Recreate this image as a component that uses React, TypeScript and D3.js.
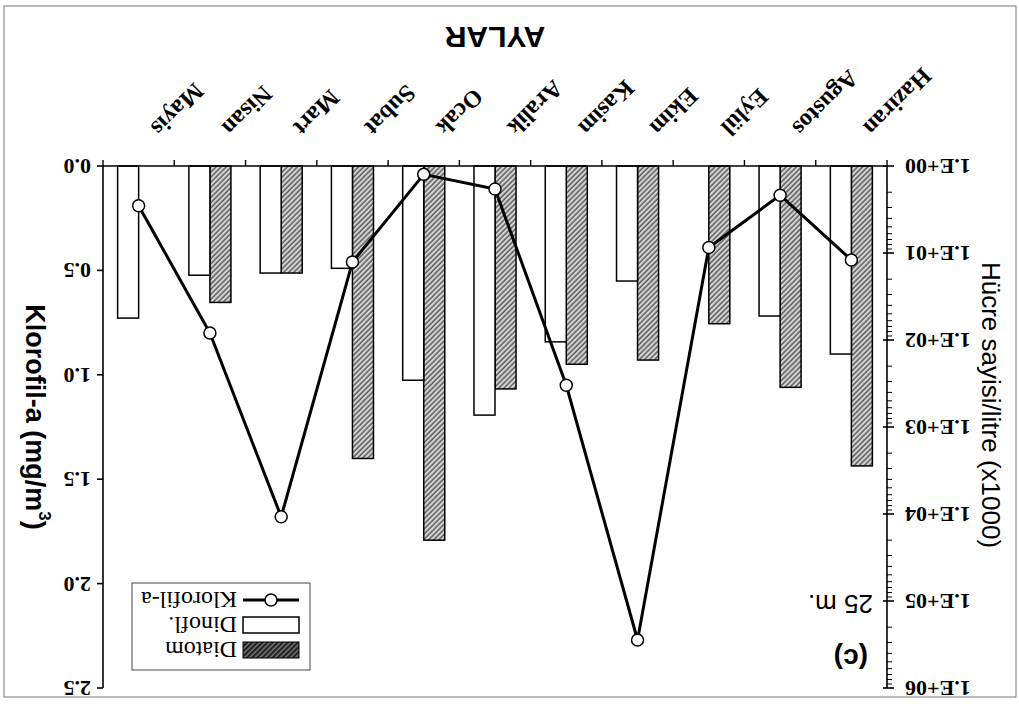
import React from "react";
import * as d3 from "d3";

// Data (in the chart's natural, unrotated order; the whole figure is shown rotated 180°)
const months = ["Haziran", "Agustos", "Eylül", "Ekim", "Kasim", "Aralik", "Ocak", "Subat", "Mart", "Nisan", "Mayis"];
const dinofl: (number | null)[] = [145, 53, null, 21, 105, 730, 290, 15, 17, 18, 56];
const diatom: (number | null)[] = [2800, 350, 65, 170, 190, 365, 20000, 2300, 17, 37, null];
const klorofil = [0.45, 0.14, 0.39, 2.27, 1.05, 0.11, 0.04, 0.46, 1.68, 0.8, 0.19];
const logTicks = [1, 10, 100, 1000, 10000, 100000, 1000000];
const logTickLabels = ["1.E+00", "1.E+01", "1.E+02", "1.E+03", "1.E+04", "1.E+05", "1.E+06"];
const kloroTicks = [0, 0.5, 1, 1.5, 2, 2.5];
const legendItems = ["Diatom", "Dinofl.", "Klorofil-a"];

const W = 1019;
const H = 704;
const L = 132;
const R = 916;
const T = 16;
const B = 538;

const SERIF = "'Liberation Serif', 'Times New Roman', serif";
const SANS = "'Liberation Sans', Arial, sans-serif";

export default function App() {
  const x = d3.scaleBand<string>().domain(months).range([L, R]).padding(0);
  const yLog = d3.scaleLog().domain([1, 1e6]).range([B, T]);
  const yLin = d3.scaleLinear().domain([0, 2.5]).range([B, T]);
  const bw = x.bandwidth();
  const barW = bw * 0.295;
  const cx = (m: string) => (x(m) as number) + bw / 2;

  const minor: number[] = [];
  for (let d = 0; d < 6; d++) for (let k = 2; k <= 9; k++) minor.push(k * Math.pow(10, d));

  const line = d3
    .line<number>()
    .x((_, i) => cx(months[i]))
    .y((v) => yLin(v));

  const boundaries = d3.range(months.length + 1).map((i) => L + i * bw);

  const legX = 709;
  const legY = 34;
  const rowY = [54, 79, 104];

  return (
    <svg width={W} height={H} style={{ position: "absolute", left: 0, top: 0, background: "#fff" }}>
      <defs>
        <pattern id="hatch" width="3.6" height="3.6" patternUnits="userSpaceOnUse" patternTransform="rotate(45)">
          <rect width="3.6" height="3.6" fill="#d4d4d4" />
          <line x1="0.8" y1="0" x2="0.8" y2="3.6" stroke="#4a4a4a" strokeWidth="1.3" />
        </pattern>
        <pattern id="hatchDark" width="3.6" height="3.6" patternUnits="userSpaceOnUse" patternTransform="rotate(45)">
          <rect width="3.6" height="3.6" fill="#222" />
          <line x1="0.8" y1="0" x2="0.8" y2="3.6" stroke="#aaa" strokeWidth="0.9" />
        </pattern>
      </defs>
      <rect x={0} y={0} width={W} height={H} fill="#fff" />
      <g transform={`rotate(180 ${W / 2} ${H / 2})`}>
        <rect x={3} y={7} width={1012} height={691} fill="none" stroke="#777" strokeWidth={1} />

        {/* bars */}
        {months.map((m, i) => {
          const c = cx(m);
          const dv = diatom[i];
          const nv = dinofl[i];
          return (
            <g key={m}>
              {dv != null && (
                <rect x={c - barW} y={yLog(dv)} width={barW} height={B - yLog(dv)} fill="url(#hatch)" stroke="#000" strokeWidth={1.5} />
              )}
              {nv != null && (
                <rect x={c} y={yLog(nv)} width={barW} height={B - yLog(nv)} fill="#fff" stroke="#000" strokeWidth={1.5} />
              )}
            </g>
          );
        })}

        {/* x axis */}
        <line x1={L} y1={B} x2={R} y2={B} stroke="#000" strokeWidth={1.6} />
        {boundaries.map((bx, i) => (
          <line key={i} x1={bx} y1={B} x2={bx} y2={B + 6} stroke="#000" strokeWidth={1.4} />
        ))}
        {months.map((m) => {
          const px = cx(m) - 11;
          const py = B + 40;
          return (
            <text
              key={m}
              x={px}
              y={py}
              transform={`rotate(-45 ${px} ${py})`}
              textAnchor="end"
              fontFamily={SERIF}
              fontWeight="bold"
              fontSize={24}
              fill="#000"
            >
              {m}
            </text>
          );
        })}
        <text x={(L + R) / 2} y={677} textAnchor="middle" fontFamily={SANS} fontWeight="bold" fontSize={30} fill="#000">
          AYLAR
        </text>

        {/* left (log) axis */}
        <line x1={L} y1={T} x2={L} y2={B} stroke="#000" strokeWidth={1.6} />
        {minor.map((v) => (
          <line key={v} x1={L - 5} y1={yLog(v)} x2={L} y2={yLog(v)} stroke="#000" strokeWidth={1} />
        ))}
        {logTicks.map((v, i) => (
          <g key={v}>
            <line x1={L - 7} y1={yLog(v)} x2={L + 4} y2={yLog(v)} stroke="#000" strokeWidth={1.6} />
            <text x={L - 18} y={yLog(v) + 7} textAnchor="end" fontFamily={SERIF} fontWeight="bold" fontSize={22} fill="#000">
              {logTickLabels[i]}
            </text>
          </g>
        ))}
        <text
          x={28}
          y={299}
          transform="rotate(-90 28 299)"
          textAnchor="middle"
          dominantBaseline="central"
          fontFamily={SANS}
          fontSize={26}
          fill="#000"
        >
          Hücre sayisi/litre (x1000)
        </text>

        {/* right (linear) axis */}
        <line x1={R} y1={T} x2={R} y2={B} stroke="#000" strokeWidth={1.6} />
        {kloroTicks.map((v) => (
          <g key={v}>
            <line x1={R} y1={yLin(v)} x2={R + 6} y2={yLin(v)} stroke="#000" strokeWidth={1.6} />
            <text x={R + 12} y={yLin(v) + 7} textAnchor="start" fontFamily={SERIF} fontWeight="bold" fontSize={22} fill="#000">
              {d3.format(".1f")(v)}
            </text>
          </g>
        ))}
        <text
          x={984}
          y={287}
          transform="rotate(-90 984 287)"
          textAnchor="middle"
          dominantBaseline="central"
          fontFamily={SANS}
          fontWeight="bold"
          fontSize={27}
          fill="#000"
        >
          Klorofil-a (mg/m
          <tspan fontSize={17} dy={-10}>3</tspan>
          <tspan dy={10}>)</tspan>
        </text>

        {/* klorofil line */}
        <path d={line(klorofil) || ""} fill="none" stroke="#000" strokeWidth={3} strokeLinejoin="round" />
        {klorofil.map((v, i) => (
          <circle key={i} cx={cx(months[i])} cy={yLin(v)} r={6} fill="#fff" stroke="#000" strokeWidth={1.5} />
        ))}

        {/* panel labels */}
        <text x={151} y={55} fontFamily={SANS} fontWeight="bold" fontSize={28} fill="#000">(c)</text>
        <text x={146} y={109} fontFamily={SANS} fontSize={26} fill="#000">25 m.</text>

        {/* legend */}
        <rect x={legX} y={legY} width={178} height={87} fill="#fff" stroke="#444" strokeWidth={1} />
        <rect x={720} y={rowY[0] - 8} width={56} height={16} fill="url(#hatchDark)" stroke="#000" strokeWidth={1} />
        <rect x={720} y={rowY[1] - 8} width={56} height={16} fill="#fff" stroke="#000" strokeWidth={1.5} />
        <line x1={720} y1={rowY[2]} x2={776} y2={rowY[2]} stroke="#000" strokeWidth={3} />
        <circle cx={748} cy={rowY[2]} r={6} fill="#fff" stroke="#000" strokeWidth={1.5} />
        {legendItems.map((t, i) => (
          <text key={t} x={782} y={rowY[i] + 8} fontFamily={SERIF} fontSize={24} fill="#000">
            {t}
          </text>
        ))}
      </g>
    </svg>
  );
}
